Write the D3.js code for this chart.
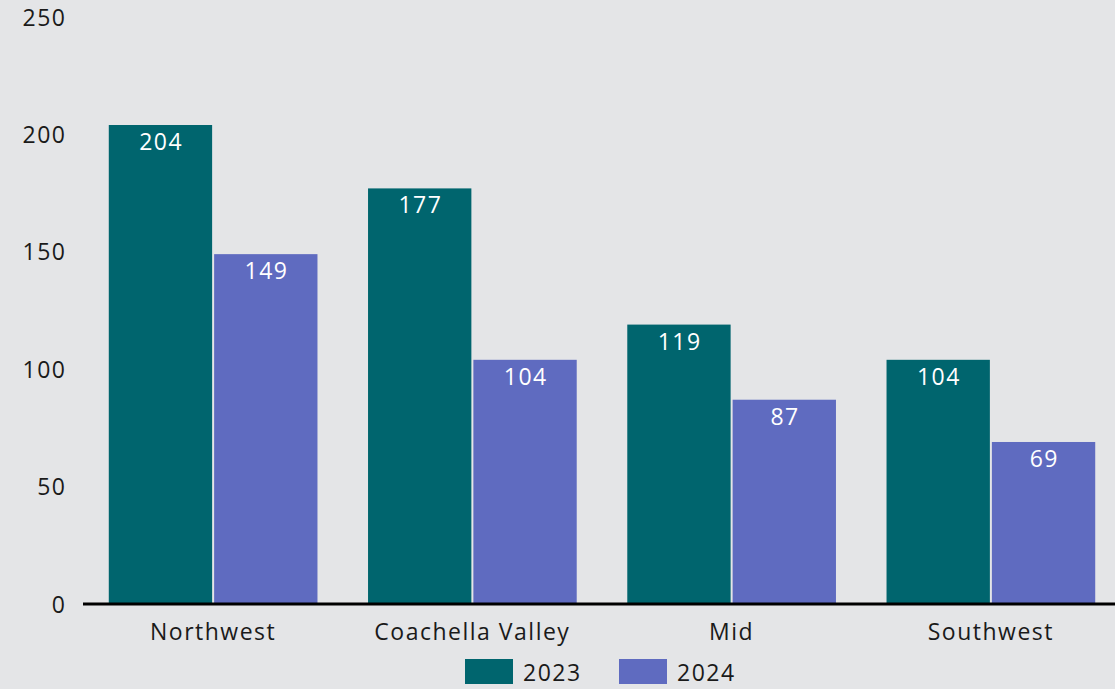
<!DOCTYPE html>
<html><head><meta charset="utf-8">
<script src="https://cdn.jsdelivr.net/npm/d3@7"></script>
<style>html,body{margin:0;padding:0;background:#e4e5e7;}svg{display:block;}</style>
</head><body><svg id="c" width="1115" height="689"></svg>
<script>
const categories = ["Northwest", "Coachella Valley", "Mid", "Southwest"];
const seriesNames = ["2023", "2024"];
const values2023 = [204, 177, 119, 104];
const values2024 = [149, 104, 87, 69];
const yTicks = [0, 50, 100, 150, 200, 250];
const colors = ["#00656e", "#5f6bc0"];

const W = 1115, H = 689;
const font = "'Open Sans', 'DejaVu Sans', sans-serif";
const svg = d3.select("#c");
svg.append("rect").attr("width", W).attr("height", H).attr("fill", "#e4e5e7");

const x0 = d3.scaleBand().domain(categories).range([83.5, 1120.5]).padding(0);
const x1 = d3.scaleBand().domain(seriesNames).range([0, x0.bandwidth()]).paddingInner(0.019).paddingOuter(0.24);
const y = d3.scaleLinear().domain([0, 250]).range([604, 17]);

const data = categories.map((c, i) => ({cat: c, vals: [values2023[i], values2024[i]]}));

const g = svg.append("g");
const groups = g.selectAll("g.grp").data(data).join("g").attr("transform", d => `translate(${x0(d.cat)},0)`);
groups.selectAll("rect").data(d => d.vals.map((v, j) => ({v, s: seriesNames[j], j})))
  .join("rect")
  .attr("x", d => x1(d.s)).attr("width", x1.bandwidth())
  .attr("y", d => y(d.v)).attr("height", d => y(0) - y(d.v))
  .attr("fill", d => colors[d.j]);
groups.selectAll("text").data(d => d.vals.map((v, j) => ({v, s: seriesNames[j], j})))
  .join("text")
  .attr("x", d => x1(d.s) + x1.bandwidth() / 2 + 0.75)
  .attr("y", d => y(d.v) + 16)
  .attr("text-anchor", "middle").attr("dominant-baseline", "central")
  .attr("fill", "#ffffff").style("font-family", font).style("font-size", "23px").style("letter-spacing", "1.5px")
  .text(d => d.v);

// y axis labels
const yAxis = d3.axisLeft(y).tickValues(yTicks).tickSize(0).tickPadding(0);
const ya = svg.append("g").attr("transform", "translate(66.5,0)").call(yAxis);
ya.select(".domain").remove();
ya.selectAll("text").attr("fill", "#1a1a1a").style("font-family", font).style("font-size", "23px").style("letter-spacing", "1.5px").attr("dy", "0.35em");

// x axis
const xAxis = d3.axisBottom(x0).tickSize(0).tickPadding(0);
const xa = svg.append("g").attr("transform", "translate(0,604)").call(xAxis);
xa.select(".domain").remove();
xa.selectAll("text").attr("fill", "#1a1a1a").style("font-family", font).style("font-size", "23px").style("letter-spacing", "1.5px")
  .attr("dy", null).attr("y", 27).attr("dominant-baseline", "central");
svg.append("line").attr("x1", 83).attr("x2", 1115).attr("y1", 604).attr("y2", 604).attr("stroke", "#000").attr("stroke-width", 3);

// legend
const legend = svg.append("g");
const lx = [465, 619];
seriesNames.forEach((s, i) => {
  legend.append("rect").attr("x", lx[i]).attr("y", 659).attr("width", 48).attr("height", 25).attr("fill", colors[i]);
  legend.append("text").attr("x", lx[i] + 58).attr("y", 671.5).attr("dominant-baseline", "central")
    .attr("fill", "#1a1a1a").style("font-family", font).style("font-size", "23px").style("letter-spacing", "1.5px").text(s);
});
</script></body></html>
